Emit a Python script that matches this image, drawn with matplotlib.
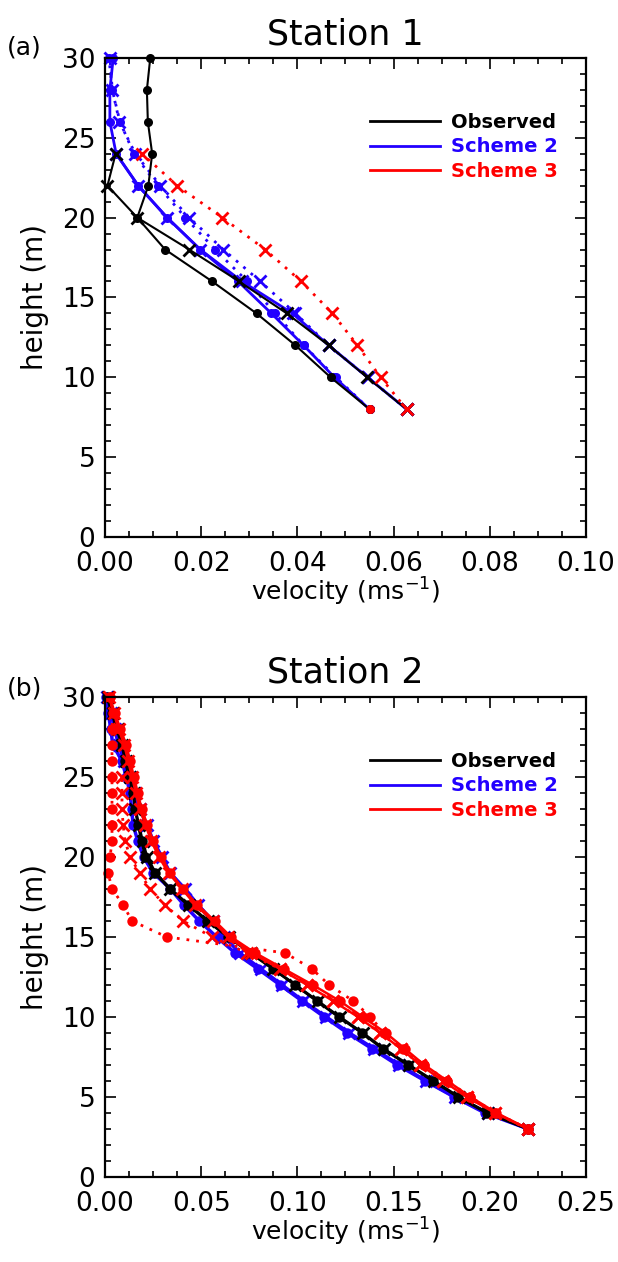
import numpy as np
import matplotlib
matplotlib.use('Agg')
import matplotlib.pyplot as plt
from matplotlib.lines import Line2D
from matplotlib.ticker import MultipleLocator

plt.rcParams['font.family'] = 'DejaVu Sans'
plt.rcParams['mathtext.fontset'] = 'dejavusans'

BLACK = '#000000'
BLUE = '#2200ff'
RED = '#ff0000'
nan = np.nan

# ---- Station 1 (every 2 m) ----
h_a = [8, 10, 12, 14, 16, 18, 20, 22, 24, 26, 28, 30]
obs_a_dot = [0.0550, 0.0469, 0.0396, 0.0315, 0.0223, 0.0125, 0.0067, 0.0090, 0.0098, 0.0089, 0.0087, 0.0094]
obs_a_x = [0.0627, 0.0545, 0.0465, 0.0378, 0.0279, 0.0175, 0.0067, 0.0005, 0.0022, nan, nan, nan]
s2_a_dot = [0.0550, 0.0477, 0.0413, 0.0346, 0.0277, 0.0198, 0.0129, 0.0069, 0.0023, 0.0010, 0.0010, 0.0017]
s2_a_x = [0.0627, 0.0546, 0.0465, 0.0390, 0.0285, 0.0198, 0.0129, 0.0069, 0.0023, nan, nan, nan]
s2_a_dot2 = [0.0550, 0.0480, 0.0413, 0.0354, 0.0296, 0.0229, 0.0167, 0.0110, 0.0060, 0.0031, 0.0015, 0.0008]
s2_a_x2 = [0.0627, 0.0546, 0.0465, 0.0396, 0.0323, 0.0246, 0.0175, 0.0115, 0.0063, 0.0030, 0.0015, 0.0010]
s3_a_dot = [0.0550, nan, nan, nan, nan, nan, nan, nan, nan, nan, nan, nan]
s3_a_x2 = [0.0627, 0.0573, 0.0525, 0.0473, 0.0408, 0.0333, 0.0244, 0.0150, 0.0077, nan, nan, nan]

# ---- Station 2 (every 1 m) ----
h_b = list(range(3, 31))
obs_b_dot = [0.2200, 0.1985, 0.1835, 0.1705, 0.1575, 0.1445, 0.1336, 0.1215, 0.1100, 0.0988,
             0.0873, 0.0755, 0.0640, 0.0530, 0.0431, 0.0338, 0.0260, 0.0210, 0.0190, 0.0172,
             0.0156, 0.0146, 0.0125, 0.0104, 0.0088, 0.0060, 0.0035, 0.0010]
obs_b_x = [0.2200, 0.1990, 0.1840, 0.1710, 0.1580, 0.1450, 0.1340, 0.1220, 0.1105, 0.0990,
           0.0875, 0.0760, 0.0645, 0.0535, 0.0435, 0.0340, 0.0262, 0.0218, 0.0195, 0.0175,
           0.0158, 0.0148, 0.0130, 0.0110, 0.0090, 0.0065, 0.0040, 0.0015]
s2_b_dot = [0.2200, 0.1975, 0.1815, 0.1665, 0.1520, 0.1390, 0.1260, 0.1140, 0.1024, 0.0910,
            0.0795, 0.0676, 0.0580, 0.0490, 0.0410, 0.0340, 0.0250, 0.0200, 0.0170, 0.0146,
            0.0138, 0.0130, 0.0110, 0.0088, 0.0040, 0.0030, 0.0016, 0.0005]
s2_b_x = [0.2200, 0.1990, 0.1820, 0.1670, 0.1530, 0.1400, 0.1270, 0.1150, 0.1030, 0.0920,
          0.0810, 0.0700, 0.0620, 0.0560, 0.0483, 0.0416, 0.0338, 0.0296, 0.0250, 0.0218,
          0.0180, 0.0156, 0.0130, 0.0100, 0.0070, 0.0050, 0.0030, 0.0010]
s3_b_dot = [0.2200, 0.2035, 0.1900, 0.1780, 0.1660, 0.1560, 0.1460, 0.1340, 0.1220, 0.1080,
            0.0930, 0.0780, 0.0655, 0.0570, 0.0480, 0.0405, 0.0340, 0.0290, 0.0250, 0.0220,
            0.0190, 0.0170, 0.0150, 0.0130, 0.0110, 0.0080, 0.0050, 0.0025]
s3_b_x = [0.2200, 0.2027, 0.1880, 0.1757, 0.1640, 0.1540, 0.1430, 0.1315, 0.1185, 0.1050,
          0.0910, 0.0760, 0.0640, 0.0560, 0.0470, 0.0400, 0.0330, 0.0280, 0.0240, 0.0210,
          0.0180, 0.0160, 0.0140, 0.0120, 0.0100, 0.0070, 0.0045, 0.0020]
s3_b_dot2 = [0.2200, 0.2030, 0.1900, 0.1780, 0.1660, 0.1550, 0.1450, 0.1380, 0.1290, 0.1165,
             0.1076, 0.0936, 0.0320, 0.0140, 0.0094, 0.0036, 0.0016, 0.0026, 0.0036, 0.0036,
             0.0036, 0.0036, 0.0036, 0.0036, 0.0036, 0.0036, 0.0040, 0.0026]
s3_b_x2 = [0.2200, 0.2027, 0.1880, 0.1757, 0.1640, 0.1540, 0.1430, 0.1315, 0.1185, 0.1050,
           0.0910, 0.0738, 0.0556, 0.0405, 0.0310, 0.0234, 0.0180, 0.0130, 0.0104, 0.0094,
           0.0088, 0.0088, 0.0088, nan, nan, nan, nan, nan]

names = ['Observed', 'Scheme 2', 'Scheme 3']
colors = [BLACK, BLUE, RED]
DOTTED = (0, (1, 2.5))


def profile(ax, x, h, color, ls, marker, lw=1.5, ms=6.5):
    if marker == 'o':
        ax.plot(x, h, color=color, linestyle=ls, linewidth=lw, marker='o',
                markersize=ms, markeredgewidth=0, dash_capstyle='butt', clip_on=False)
    else:
        ax.plot(x, h, color=color, linestyle=ls, linewidth=lw, marker='x',
                markersize=ms + 1.5, markeredgewidth=2, dash_capstyle='butt', clip_on=False)


def style_axes(ax, xmax, xmajor, xminor):
    ax.set_xlim(0, xmax)
    ax.set_ylim(0, 30)
    ax.xaxis.set_major_locator(MultipleLocator(xmajor))
    ax.xaxis.set_minor_locator(MultipleLocator(xminor))
    ax.yaxis.set_major_locator(MultipleLocator(5))
    ax.yaxis.set_minor_locator(MultipleLocator(1))
    ax.xaxis.set_major_formatter(plt.FormatStrFormatter('%.2f'))
    ax.tick_params(which='both', direction='in', top=True, right=True, width=1.2,
                   labelsize=19)
    ax.tick_params(axis='x', pad=10)
    ax.tick_params(axis='y', pad=7)
    ax.tick_params(which='major', length=8)
    ax.tick_params(which='minor', length=4)
    for s in ax.spines.values():
        s.set_linewidth(1.6)
    ax.set_xlabel('velocity (ms$^{-1}$)', fontsize=18, labelpad=-1)
    ax.set_ylabel('height (m)', fontsize=20, labelpad=9)
    handles = [Line2D([], [], color=c, linewidth=2) for c in colors]
    ax.legend(handles, names, loc='upper left', bbox_to_anchor=(0.55, 0.886),
              frameon=False, handlelength=3.6, handletextpad=0.6, labelspacing=0.3,
              borderpad=0, borderaxespad=0, prop={'weight': 'bold', 'size': 14},
              labelcolor=colors)


fig = plt.figure(figsize=(6.18, 12.62), dpi=100)

ax1 = fig.add_axes([0.170, 0.5745, 0.778, 0.3796])
profile(ax1, s2_a_dot2, h_a, BLUE, DOTTED, 'o', lw=2)
profile(ax1, s2_a_x2, h_a, BLUE, DOTTED, 'x', lw=2)
profile(ax1, s2_a_dot, h_a, BLUE, '-', 'o', lw=2)
profile(ax1, s2_a_x, h_a, BLUE, '-', 'x', lw=2)
profile(ax1, obs_a_dot, h_a, BLACK, '-', 'o')
profile(ax1, obs_a_x, h_a, BLACK, '-', 'x')
profile(ax1, s3_a_x2, h_a, RED, DOTTED, 'x', lw=2)
profile(ax1, s3_a_dot, h_a, RED, '-', 'o')
style_axes(ax1, 0.10, 0.02, 0.005)
ax1.set_title('Station 1', fontsize=25, pad=10)
fig.text(0.04, 1 - 47 / 1262, '(a)', ha='center', va='center', fontsize=18)

ax2 = fig.add_axes([0.170, 0.0674, 0.778, 0.3804])
profile(ax2, s2_b_dot, h_b, BLUE, '-', 'o', lw=2.5, ms=7.5)
profile(ax2, s2_b_x, h_b, BLUE, '-', 'x', lw=2.5, ms=7.5)
profile(ax2, obs_b_dot, h_b, BLACK, '-', 'o', lw=2, ms=7.5)
profile(ax2, obs_b_x, h_b, BLACK, '-', 'x', lw=2, ms=7.5)
profile(ax2, s3_b_dot2, h_b, RED, DOTTED, 'o', lw=2, ms=7.5)
profile(ax2, s3_b_x2, h_b, RED, DOTTED, 'x', lw=2, ms=7.5)
profile(ax2, s3_b_dot, h_b, RED, '-', 'o', lw=1.8, ms=7.5)
profile(ax2, s3_b_x, h_b, RED, '-', 'x', lw=1.8, ms=7.5)
style_axes(ax2, 0.25, 0.05, 0.0125)
ax2.set_title('Station 2', fontsize=25, pad=10)
fig.text(0.04, 1 - 688 / 1262, '(b)', ha='center', va='center', fontsize=18)

fig.savefig('out.png', dpi=100)
